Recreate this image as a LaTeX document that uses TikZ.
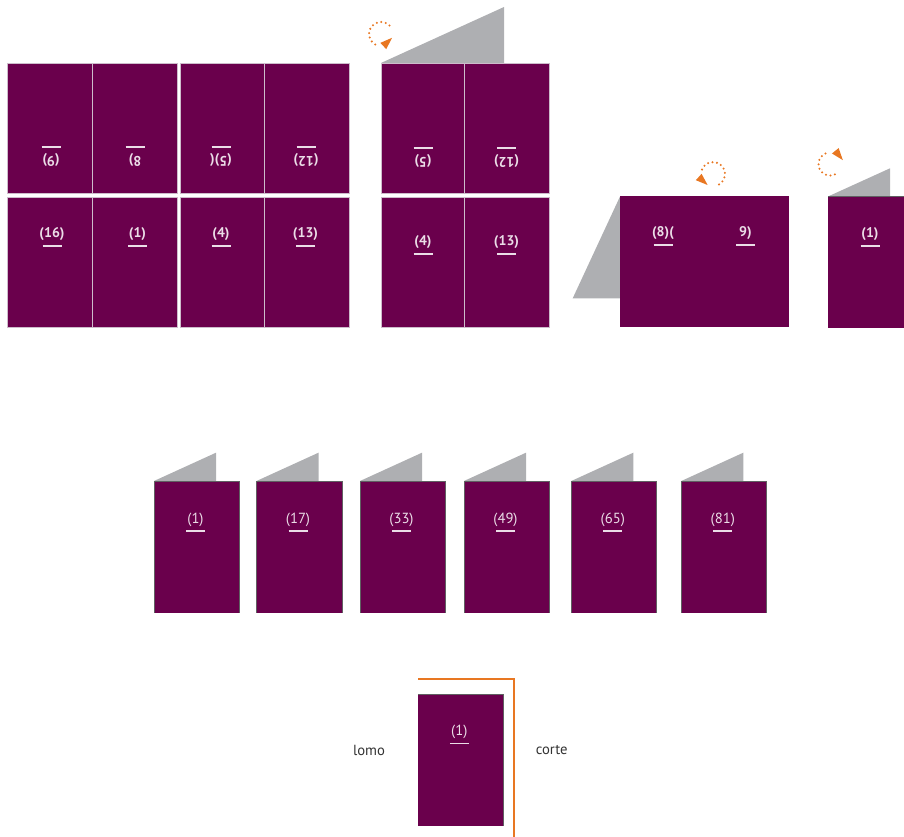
\documentclass[tikz,border=0pt]{standalone}
\usepackage{fontspec}
\setmainfont{PT Sans}
\usepackage{xcolor}
\usetikzlibrary{calc}
\definecolor{pliego}{HTML}{6A004C}
\definecolor{solapa}{HTML}{AEAFB2}
\definecolor{giro}{HTML}{E87722}
\definecolor{folio}{HTML}{EBDDE7}
\definecolor{canto}{HTML}{606062}
\definecolor{borde}{HTML}{CDBCCB}
\tikzset{
  pag/.style={font=\fontsize{11}{13}\selectfont, text=folio, inner sep=0pt},
  pagb/.style={pag, font=\fontsize{10.5}{13}\selectfont\bfseries},
  raya/.style={draw=folio, line width=1.1pt},
  hoja/.style={fill=pliego, draw=borde, line width=0.6pt},
  giropuntos/.style={draw=giro, line width=1.7pt, line cap=round, dash pattern=on 0pt off 3.4pt},
}
% folio with its rule below, and the same turned upside down
\newcommand{\folio}[5][pag]{
  \node[#1] (#2) at (#3,-#4) {#5};
  \draw[raya] ($(#2.center)+(-9.5,-11.5)$) -- ++(19,0);
}
\newcommand{\foliorot}[5][pagb]{
  \node[#1, rotate=180] (#2) at (#3,-#4) {#5};
  \draw[raya] ($(#2.center)+(-9.5,13)$) -- ++(19,0);
}
% arrow head of a turn: base point and direction
\newcommand{\punta}[2]{
  \fill[giro] ($(#1)+(#2:12)$) -- ($(#1)+(#2+90:4.3)$) -- ($(#1)+(#2-90:4.3)$) -- cycle;
}

\begin{document}
\begin{tikzpicture}[x=0.75pt,y=0.75pt]
\useasboundingbox (0,0) rectangle (904,-837);

% pliego abierto
\foreach \a/\b in {7/92,92/177,180/264,264/349}{
    \fill[hoja] (\a,-63) rectangle (\b,-193);
    \fill[hoja] (\a,-197) rectangle (\b,-327);
}
\foliorot{a9}{51}{160}{(9)}
\foliorot{a8}{135}{160}{8)}
\foliorot{a5}{221}{160}{(5)(}
\foliorot{a12}{306}{160}{(12)}
\folio[pagb]{a16}{52}{234.5}{(16)}
\folio[pagb]{a1}{137.5}{234.5}{(1)}
\folio[pagb]{a4}{221}{234.5}{(4)}
\folio[pagb]{a13}{305.5}{234.5}{(13)}

% primer doblez
\fill[solapa] (381,-63) -- (504,-7) -- (504,-63) -- cycle;
\foreach \a/\b in {381/464,464/549}{
    \fill[hoja] (\a,-63) rectangle (\b,-193);
    \fill[hoja] (\a,-197) rectangle (\b,-327);
}
\coordinate (g1) at (383.3,-46);
\draw[giropuntos] (381,-34) ++(45:12) arc[start angle=45, end angle=258, radius=12];
\punta{g1}{43}
\foliorot{b5}{423}{161}{(5)}
\foliorot{b12}{506.5}{161}{(12)}
\folio[pagb]{b4}{423}{242.5}{(4)}
\folio[pagb]{b13}{506.5}{242.5}{(13)}

% segundo doblez
\fill[solapa] (572.7,-298.3) -- (620,-196.5) -- (620,-298.3) -- cycle;
\fill[pliego] (620,-196.5) rectangle (789,-326.7);
\coordinate (g2) at (698.7,-177);
\draw[giropuntos] (713,-174) ++(-60:12) arc[start angle=-60, end angle=165, radius=12];
\punta{g2}{-42}
\folio[pagb]{c8}{663}{233.5}{(8)(}
\folio[pagb]{c9}{745.5}{233.5}{9)}

% tercer doblez
\fill[solapa] (828,-196.5) -- (890,-168.3) -- (890,-196.5) -- cycle;
\fill[pliego] (828,-196.5) rectangle (904,-327.7);
\draw[canto, line width=0.8pt] (828,-196.5) -- (904,-196.5);
\coordinate (g3) at (835.3,-150.8);
\draw[giropuntos] (830,-164) ++(295:11.5) arc[start angle=295, end angle=105, radius=11.5];
\punta{g3}{-51}
\folio[pagb]{d1}{870}{234.5}{(1)}

% cuadernillos
\foreach \x/\n in {154/1,256.5/17,360/33,464/49,571.3/65,681.3/81}{
    \fill[solapa] (\x,-481) -- (\x+62,-452.7) -- (\x+62,-481) -- cycle;
    \fill[pliego] (\x,-481) rectangle (\x+85.5,-612.7);
    \draw[canto, line width=0.6pt] (\x,-612.7) -- (\x,-481) -- (\x+85.5,-481) -- (\x+85.5,-612.7);
    \folio{e\n}{\x+41.5}{519.5}{(\n)}
}

% lomo y corte
\fill[pliego] (418,-694.3) rectangle (503.7,-825.7);
\draw[canto, line width=0.6pt] (418,-694.3) -- (503.7,-694.3) -- (503.7,-825.7);
\draw[giro, line width=1.6pt] (418,-679.3) -- (514,-679.3) -- (514,-837);
\folio{f1}{459.3}{731.8}{(1)}
\node[pag, text=black!80] (lomo) at (369,-750) {lomo};
\node[pag, text=black!80] (corte) at (551.7,-750) {corte};
\end{tikzpicture}
\end{document}
